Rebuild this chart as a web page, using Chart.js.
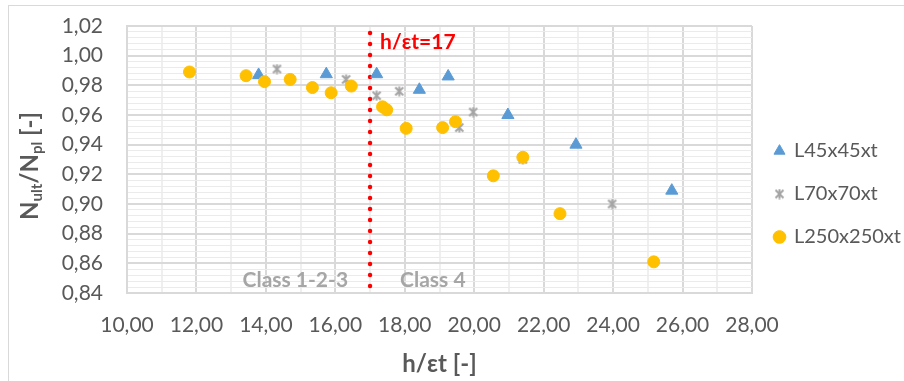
<!DOCTYPE html>
<html>
<head>
<meta charset="utf-8">
<script src="https://cdn.jsdelivr.net/npm/chart.js@4.4.1/dist/chart.umd.min.js"></script>
<style>
  html, body { margin: 0; padding: 0; background: #fff; overflow: hidden; width: 904px; height: 381px; }
  #frame { position: absolute; left: 8px; top: 5px; width: 930px; height: 390px; border: 1px solid #d9d9d9; background: #fff; }
  canvas { display: block; }
</style>
</head>
<body>
<div id="frame"><canvas id="c" width="930" height="390"></canvas></div>
<script>
// Series: slenderness h/(eps*t) against normalised ultimate load N_ult/N_pl
const SERIES_NAMES = ['L45x45xt', 'L70x70xt', 'L250x250xt'];

const L45_X = [13.79, 15.74, 17.19, 18.42, 19.25, 20.97, 22.93, 25.69];
const L45_Y = [0.987, 0.9875, 0.9875, 0.977, 0.986, 0.960, 0.940, 0.909];

const L70_X = [14.32, 16.31, 17.19, 17.84, 19.57, 19.97, 21.40, 23.97];
const L70_Y = [0.991, 0.984, 0.973, 0.976, 0.9515, 0.962, 0.930, 0.900];

const L250_X = [11.80, 13.43, 13.96, 14.70, 15.34, 15.88, 16.46, 17.36, 17.48, 18.04, 19.09, 19.46, 20.55, 21.40, 22.47, 25.17];
const L250_Y = [0.989, 0.9865, 0.9825, 0.984, 0.9785, 0.975, 0.9795, 0.9655, 0.9635, 0.951, 0.9515, 0.9555, 0.919, 0.9315, 0.8935, 0.861];

// Axis ticks (labelled values)
const X_TICKS = [10, 12, 14, 16, 18, 20, 22, 24, 26, 28];
const Y_TICKS = [0.84, 0.86, 0.88, 0.90, 0.92, 0.94, 0.96, 0.98, 1.00, 1.02];

// Class 3 / class 4 slenderness limit and the extent of its dotted marker
const LIMIT_SLENDERNESS = 17;
const LIMIT_LINE_Y = [1.0153, 0.8387];
const LIMIT_LABEL = 'h/\u03b5t=17';
const CLASS_LABELS = ['Class 1-2-3', 'Class 4'];

const X_TITLE = 'h/\u03b5t [-]';
const Y_TITLE_PARTS = [['N', false], ['ult', true], ['/N', false], ['pl', true], [' [-]', false]];

const FONT = 'Lato';
const TEXT_GREY = '#595959';
const GRID_MAJOR = '#d9d9d9';

// canvas geometry
const CANVAS_W = 930;
const PLOT_RIGHT = 743;
const LEGEND_FONT = 20;
const LEGEND_BOX = 9;
const LEGEND_PAD = 23;

function pairs(xs, ys) { return xs.map((x, i) => ({ x, y: ys[i] })); }
function fmt(v) { return v.toFixed(2).replace('.', ','); }
function isLabelled(v, list) { return list.some(t => Math.abs(t - v) < 1e-6); }

// asterisk marker: an X crossed by a vertical stroke
function starMarker(size, color) {
  const cv = document.createElement('canvas');
  cv.width = size; cv.height = size;
  const g = cv.getContext('2d');
  g.strokeStyle = color; g.lineWidth = 2; g.lineCap = 'butt';
  const a = 1.5, b = size - 1.5, m = size / 2;
  g.beginPath();
  g.moveTo(a, a); g.lineTo(b, b);
  g.moveTo(b, a); g.lineTo(a, b);
  g.moveTo(m, 0.5); g.lineTo(m, size - 0.5);
  g.stroke();
  return cv;
}

const textPlugin = {
  id: 'chartTexts',
  beforeDatasetsDraw(chart) {
    const { ctx, chartArea, scales } = chart;
    const lx = scales.x.getPixelForValue(LIMIT_SLENDERNESS);
    ctx.save();
    ctx.textBaseline = 'middle';
    ctx.font = 'bold 21px ' + FONT;
    ctx.fillStyle = '#a6a6a6';
    ctx.textAlign = 'right';
    ctx.fillText(CLASS_LABELS[0], lx - 22, chartArea.bottom - 13);
    ctx.textAlign = 'left';
    ctx.fillText(CLASS_LABELS[1], lx + 30, chartArea.bottom - 13);
    ctx.fillStyle = '#ff0000';
    ctx.font = 'bold 21px ' + FONT;
    ctx.fillText(LIMIT_LABEL, lx + 10, chartArea.top + 16);
    ctx.restore();
  },
  afterDraw(chart) {
    // vertical axis title with subscripts
    const { ctx, chartArea } = chart;
    const mainFont = 'bold 24px ' + FONT;
    const subFont = 'bold 15px ' + FONT;
    ctx.save();
    let total = 0;
    const widths = Y_TITLE_PARTS.map(([t, sub]) => {
      ctx.font = sub ? subFont : mainFont;
      const w = ctx.measureText(t).width;
      total += w;
      return w;
    });
    const cx = 21, cy = (chartArea.top + chartArea.bottom) / 2 + 6.5;
    ctx.translate(cx, cy);
    ctx.rotate(-Math.PI / 2);
    ctx.fillStyle = TEXT_GREY;
    ctx.textBaseline = 'alphabetic';
    ctx.textAlign = 'left';
    let x = -total / 2;
    const base = 8;
    Y_TITLE_PARTS.forEach(([t, sub], i) => {
      ctx.font = sub ? subFont : mainFont;
      ctx.fillText(t, x, sub ? base + 4 : base);
      x += widths[i];
    });
    ctx.restore();
  }
};

function draw() {
  const canvas = document.getElementById('c');
  const ctx = canvas.getContext('2d');

  // legend width as the library computes it, so the plot ends at PLOT_RIGHT
  ctx.font = LEGEND_FONT + 'px ' + FONT;
  const longest = Math.max(...SERIES_NAMES.map(s => ctx.measureText(s).width));
  const legendWidth = LEGEND_PAD + LEGEND_BOX + LEGEND_FONT / 2 + longest + 10;
  const rightPad = Math.max(0, CANVAS_W - PLOT_RIGHT - legendWidth);

  new Chart(ctx, {
    type: 'scatter',
    data: {
      datasets: [
        {
          label: SERIES_NAMES[0], data: pairs(L45_X, L45_Y), order: 3,
          pointStyle: 'triangle', pointRadius: 7, pointHoverRadius: 7,
          backgroundColor: '#5b9bd5', borderColor: '#5b9bd5', borderWidth: 1
        },
        {
          label: SERIES_NAMES[1], data: pairs(L70_X, L70_Y), order: 2,
          pointStyle: starMarker(11, '#a5a5a5'), pointRadius: 5,
          backgroundColor: '#a5a5a5', borderColor: '#a5a5a5'
        },
        {
          label: SERIES_NAMES[2], data: pairs(L250_X, L250_Y), order: 1,
          pointStyle: 'circle', pointRadius: 6, pointHoverRadius: 6,
          backgroundColor: '#ffc000', borderColor: '#ffc000', borderWidth: 1
        },
        {
          label: 'limit', order: 4,
          data: LIMIT_LINE_Y.map(y => ({ x: LIMIT_SLENDERNESS, y })),
          showLine: true, pointRadius: 0, clip: false,
          borderColor: '#ff0000', borderWidth: 4.5,
          borderDash: [0, 11], borderCapStyle: 'round'
        }
      ]
    },
    options: {
      responsive: false,
      animation: false,
      devicePixelRatio: 1,
      layout: { padding: { top: 20, left: 0, right: rightPad, bottom: 34 } },
      plugins: {
        tooltip: { enabled: false },
        legend: {
          position: 'right',
          labels: {
            usePointStyle: true,
            boxWidth: LEGEND_BOX, boxHeight: LEGEND_BOX,
            padding: LEGEND_PAD,
            color: TEXT_GREY,
            font: { family: FONT, size: LEGEND_FONT },
            filter: item => item.datasetIndex < SERIES_NAMES.length,
            sort: (a, b) => a.datasetIndex - b.datasetIndex
          }
        }
      },
      scales: {
        x: {
          type: 'linear', min: X_TICKS[0], max: X_TICKS[X_TICKS.length - 1],
          afterBuildTicks: s => {
            const t = [];
            X_TICKS.forEach((v, i) => { t.push({ value: v }); if (i < X_TICKS.length - 1) t.push({ value: v + (X_TICKS[1] - X_TICKS[0]) / 2 }); });
            s.ticks = t;
          },
          afterFit: s => { s.height = 69; },
          ticks: {
            autoSkip: false, maxRotation: 0, padding: 0,
            color: TEXT_GREY, font: { family: FONT, size: 21 },
            callback: v => isLabelled(v, X_TICKS) ? fmt(v) : ''
          },
          grid: {
            drawTicks: true, tickLength: 20, tickColor: 'rgba(0,0,0,0)',
            color: c => isLabelled(c.tick.value, X_TICKS) ? GRID_MAJOR : '#efefef',
            lineWidth: 2
          },
          border: { color: GRID_MAJOR, width: 2 },
          title: {
            display: true, text: X_TITLE, color: TEXT_GREY,
            font: { family: FONT, size: 24, weight: 'bold' },
            padding: { top: 0, bottom: -17 }
          }
        },
        y: {
          type: 'linear', min: Y_TICKS[0], max: Y_TICKS[Y_TICKS.length - 1],
          afterBuildTicks: s => {
            const t = [];
            const lo = Math.round(Y_TICKS[0] * 1000), hi = Math.round(Y_TICKS[Y_TICKS.length - 1] * 1000);
            for (let k = lo; k <= hi; k += 4) t.push({ value: k / 1000 });
            s.ticks = t;
          },
          afterFit: s => { s.width = 118; },
          ticks: {
            autoSkip: false, padding: 0,
            color: TEXT_GREY, font: { family: FONT, size: 21 },
            callback: v => isLabelled(v, Y_TICKS) ? fmt(v) : ''
          },
          grid: {
            drawTicks: true, tickLength: 24, tickColor: 'rgba(0,0,0,0)',
            color: c => isLabelled(c.tick.value, Y_TICKS) ? GRID_MAJOR : '#ebebeb',
            lineWidth: c => isLabelled(c.tick.value, Y_TICKS) ? 2 : 1
          },
          border: { color: GRID_MAJOR, width: 2 }
        }
      }
    },
    plugins: [textPlugin]
  });
}

Promise.all([
  document.fonts.load('20px ' + FONT),
  document.fonts.load('bold 20px ' + FONT)
]).then(draw, draw);
</script>
</body>
</html>
